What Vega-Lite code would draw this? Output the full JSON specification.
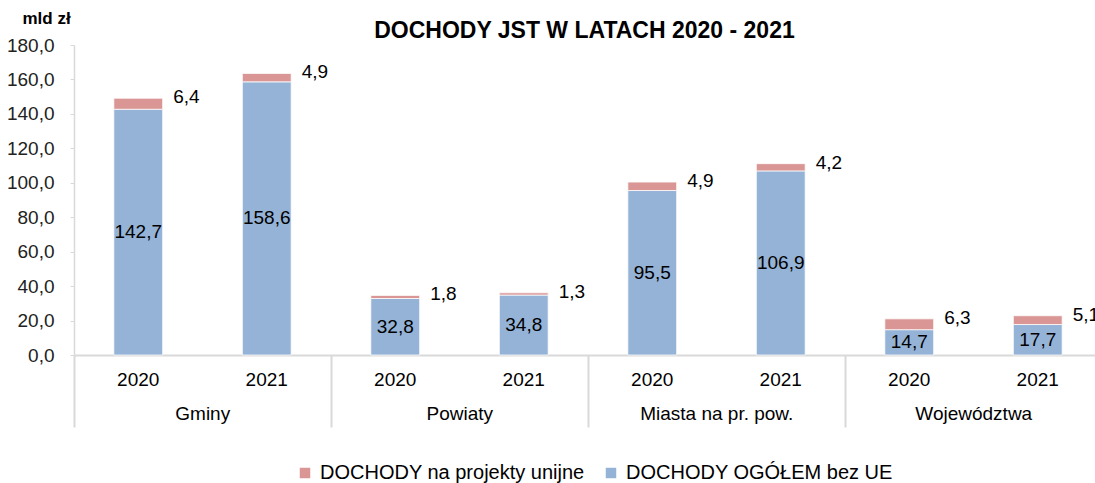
{
  "$schema": "https://vega.github.io/schema/vega-lite/v6.json",
  "width": 1021,
  "height": 310,
  "autosize": {"type": "none"},
  "padding": {"left": 74, "top": 45, "right": 0, "bottom": 128},
  "title": {"text": "DOCHODY JST W LATACH 2020 - 2021", "fontSize": 23, "font": "Liberation Sans", "fontWeight": "bold", "color": "#000", "anchor": "middle", "frame": "group", "offset": 5, "dy": 39},
  "data": {"values": [
    {"k": "Gminy|2020", "ogolem": 142.7, "ue": 6.4},
    {"k": "Gminy|2021", "ogolem": 158.6, "ue": 4.9},
    {"k": "Powiaty|2020", "ogolem": 32.8, "ue": 1.8},
    {"k": "Powiaty|2021", "ogolem": 34.8, "ue": 1.3},
    {"k": "Miasta na pr. pow.|2020", "ogolem": 95.5, "ue": 4.9},
    {"k": "Miasta na pr. pow.|2021", "ogolem": 106.9, "ue": 4.2},
    {"k": "Województwa|2020", "ogolem": 14.7, "ue": 6.3},
    {"k": "Województwa|2021", "ogolem": 17.7, "ue": 5.1}
  ]},
  "layer": [
    {
      "transform": [{"fold": ["ogolem", "ue"], "as": ["s", "v"]}],
      "mark": {"type": "bar", "stroke": "#ffffff", "strokeWidth": 0.75},
      "encoding": {
        "x": {
          "field": "k", "type": "nominal",
          "scale": {"domain": ["Gminy|2020", "Gminy|2021", "Powiaty|2020", "Powiaty|2021", "Miasta na pr. pow.|2020", "Miasta na pr. pow.|2021", "Województwa|2020", "Województwa|2021"], "range": [0, 1028], "paddingInner": 0.62, "paddingOuter": 0.31},
          "axis": {"title": null, "orient": "bottom", "labelExpr": "split(datum.value, '|')[1]", "labelAngle": 0, "labelFontSize": 19, "labelFont": "Liberation Sans", "labelColor": "#000", "labelPadding": 15, "labelBaseline": "top", "ticks": false, "domainColor": "#d9d9d9", "domainWidth": 2}
        },
        "y": {
          "field": "v", "type": "quantitative", "stack": "zero", "title": "mld zł",
          "scale": {"domain": [0, 180], "nice": false},
          "axis": {"values": [0, 20, 40, 60, 80, 100, 120, 140, 160, 180], "format": ".1f", "labelOverlap": false, "labelFontSize": 19, "labelFont": "Liberation Sans", "labelColor": "#222", "tickSize": 4, "tickColor": "#d9d9d9", "domainColor": "#d9d9d9", "domainWidth": 1.5, "labelPadding": 16, "grid": false, "titleAngle": 0, "titleAlign": "left", "titleBaseline": "middle", "titleX": -52, "titleY": -27, "titleFontSize": 17, "titleFontWeight": "bold", "titleColor": "#000", "titleFont": "Liberation Sans"}
        },
        "color": {
          "field": "s", "type": "nominal",
          "scale": {"domain": ["ue", "ogolem"], "range": ["#D99694", "#95B3D7"]},
          "legend": {"orient": "none", "legendX": 221, "legendY": 418, "direction": "horizontal", "title": null, "symbolType": "square", "symbolSize": 110, "symbolStrokeWidth": 0, "labelFontSize": 20, "labelFont": "Liberation Sans", "labelColor": "#000", "labelOffset": 5, "labelLimit": 500, "columnPadding": 16, "labelExpr": "datum.label == 'ue' ? 'DOCHODY na projekty unijne' : 'DOCHODY OGÓŁEM bez UE'"}
        },
        "order": {"field": "s", "sort": "ascending"}
      }
    },
    {
      "transform": [{"calculate": "datum.ogolem / 2", "as": "mid"}],
      "mark": {"type": "text", "fontSize": 19, "font": "Liberation Sans", "color": "#000", "baseline": "middle"},
      "encoding": {
        "x": {"field": "k", "type": "nominal", "axis": null},
        "y": {
          "field": "mid", "type": "quantitative", "title": "mld zł",
          "axis": {"values": [0, 20, 40, 60, 80, 100, 120, 140, 160, 180], "format": ".1f", "labelOverlap": false, "labelFontSize": 19, "labelFont": "Liberation Sans", "labelColor": "#222", "tickSize": 4, "tickColor": "#d9d9d9", "domainColor": "#d9d9d9", "domainWidth": 1.5, "labelPadding": 16, "grid": false, "titleAngle": 0, "titleAlign": "left", "titleBaseline": "middle", "titleX": -52, "titleY": -27, "titleFontSize": 17, "titleFontWeight": "bold", "titleColor": "#000", "titleFont": "Liberation Sans"}
        },
        "text": {"field": "ogolem", "type": "quantitative", "format": ".1f"}
      }
    },
    {
      "transform": [{"calculate": "datum.ogolem + datum.ue", "as": "total"}],
      "mark": {"type": "text", "fontSize": 19, "font": "Liberation Sans", "color": "#000", "baseline": "middle", "align": "left", "dx": 35, "dy": -1},
      "encoding": {
        "x": {
          "field": "k", "type": "nominal",
          "axis": {"title": null, "orient": "bottom", "domain": false, "labelExpr": "split(datum.value, '|')[1] == '2020' ? split(datum.value, '|')[0] : ''", "labelOffset": 128, "labelAngle": 0, "labelFontSize": 19, "labelFont": "Liberation Sans", "labelColor": "#000", "labelPadding": -23, "labelBaseline": "top", "labelBound": false, "labelFlush": false, "labelOverlap": false, "tickSize": 72, "tickOffset": -64, "tickColor": "#d9d9d9", "tickWidth": 2, "tickOpacity": {"condition": {"test": "indexof(datum.value, '2021') >= 0", "value": 0}, "value": 1}}
        },
        "y": {
          "field": "total", "type": "quantitative", "title": "mld zł",
          "axis": {"values": [0, 20, 40, 60, 80, 100, 120, 140, 160, 180], "format": ".1f", "labelOverlap": false, "labelFontSize": 19, "labelFont": "Liberation Sans", "labelColor": "#222", "tickSize": 4, "tickColor": "#d9d9d9", "domainColor": "#d9d9d9", "domainWidth": 1.5, "labelPadding": 16, "grid": false, "titleAngle": 0, "titleAlign": "left", "titleBaseline": "middle", "titleX": -52, "titleY": -27, "titleFontSize": 17, "titleFontWeight": "bold", "titleColor": "#000", "titleFont": "Liberation Sans"}
        },
        "text": {"field": "ue", "type": "quantitative", "format": ".1f"}
      }
    }
  ],
  "resolve": {"axis": {"x": "independent"}},
  "config": {
    "view": {"stroke": null},
    "font": "Liberation Sans",
    "locale": {"number": {"decimal": ",", "thousands": " ", "grouping": [3], "currency": ["", " zł"]}}
  }
}
